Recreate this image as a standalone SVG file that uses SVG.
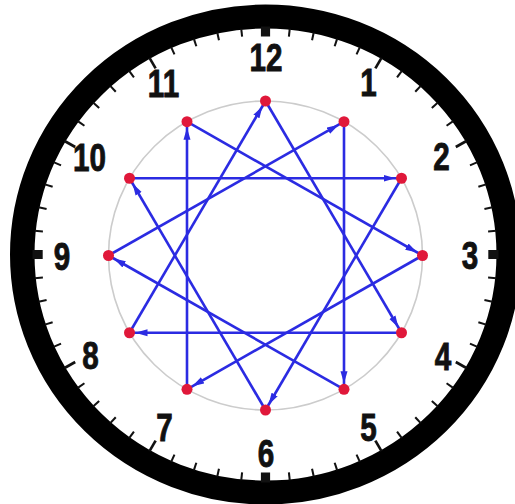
<svg xmlns="http://www.w3.org/2000/svg" xmlns:xlink="http://www.w3.org/1999/xlink" width="515" height="504" viewBox="0 0 515 504">
<style>
.num{font-family:"Liberation Sans",Arial,sans-serif;font-weight:bold;font-size:38px;fill:#111;stroke:#111;stroke-width:0.9;text-anchor:middle}
.conn line{stroke:#2b2be2;stroke-width:2.6;marker-end:url(#ah)}
.dot{fill:#e0183a}
.mt{stroke:#111;stroke-width:2}
.ht{stroke:#111;stroke-width:2.6}
</style>
<defs>
<marker id="ah" markerUnits="userSpaceOnUse" viewBox="0 0 12 8" markerWidth="12" markerHeight="8" refX="18" refY="4" orient="auto">
<path d="M0,0.5 L12,4 L0,7.5 z" fill="#2b2be2"/>
</marker>
<line id="mt" class="mt" x1="0" y1="-227" x2="0" y2="-219"/>
<line id="ht" class="ht" x1="0" y1="-227" x2="0" y2="-215"/>
<rect id="qt" x="-4.5" y="-228" width="9" height="10" fill="#111"/>
</defs>
<rect width="515" height="504" fill="#fff"/>
<g id="clock-face" transform="translate(265.5 254.5) scale(1.022 1)">
<circle r="238" fill="none" stroke="#000" stroke-width="24"/>
<g id="ticks">
<use xlink:href="#qt"/><use xlink:href="#qt" transform="rotate(90)"/><use xlink:href="#qt" transform="rotate(180)"/><use xlink:href="#qt" transform="rotate(270)"/>
<use xlink:href="#ht" transform="rotate(30)"/><use xlink:href="#ht" transform="rotate(60)"/><use xlink:href="#ht" transform="rotate(120)"/><use xlink:href="#ht" transform="rotate(150)"/><use xlink:href="#ht" transform="rotate(210)"/><use xlink:href="#ht" transform="rotate(240)"/><use xlink:href="#ht" transform="rotate(300)"/><use xlink:href="#ht" transform="rotate(330)"/>
<use xlink:href="#mt" transform="rotate(6)"/><use xlink:href="#mt" transform="rotate(12)"/><use xlink:href="#mt" transform="rotate(18)"/><use xlink:href="#mt" transform="rotate(24)"/>
<use xlink:href="#mt" transform="rotate(36)"/><use xlink:href="#mt" transform="rotate(42)"/><use xlink:href="#mt" transform="rotate(48)"/><use xlink:href="#mt" transform="rotate(54)"/>
<use xlink:href="#mt" transform="rotate(66)"/><use xlink:href="#mt" transform="rotate(72)"/><use xlink:href="#mt" transform="rotate(78)"/><use xlink:href="#mt" transform="rotate(84)"/>
<use xlink:href="#mt" transform="rotate(96)"/><use xlink:href="#mt" transform="rotate(102)"/><use xlink:href="#mt" transform="rotate(108)"/><use xlink:href="#mt" transform="rotate(114)"/>
<use xlink:href="#mt" transform="rotate(126)"/><use xlink:href="#mt" transform="rotate(132)"/><use xlink:href="#mt" transform="rotate(138)"/><use xlink:href="#mt" transform="rotate(144)"/>
<use xlink:href="#mt" transform="rotate(156)"/><use xlink:href="#mt" transform="rotate(162)"/><use xlink:href="#mt" transform="rotate(168)"/><use xlink:href="#mt" transform="rotate(174)"/>
<use xlink:href="#mt" transform="rotate(186)"/><use xlink:href="#mt" transform="rotate(192)"/><use xlink:href="#mt" transform="rotate(198)"/><use xlink:href="#mt" transform="rotate(204)"/>
<use xlink:href="#mt" transform="rotate(216)"/><use xlink:href="#mt" transform="rotate(222)"/><use xlink:href="#mt" transform="rotate(228)"/><use xlink:href="#mt" transform="rotate(234)"/>
<use xlink:href="#mt" transform="rotate(246)"/><use xlink:href="#mt" transform="rotate(252)"/><use xlink:href="#mt" transform="rotate(258)"/><use xlink:href="#mt" transform="rotate(264)"/>
<use xlink:href="#mt" transform="rotate(276)"/><use xlink:href="#mt" transform="rotate(282)"/><use xlink:href="#mt" transform="rotate(288)"/><use xlink:href="#mt" transform="rotate(294)"/>
<use xlink:href="#mt" transform="rotate(306)"/><use xlink:href="#mt" transform="rotate(312)"/><use xlink:href="#mt" transform="rotate(318)"/><use xlink:href="#mt" transform="rotate(324)"/>
<use xlink:href="#mt" transform="rotate(336)"/><use xlink:href="#mt" transform="rotate(342)"/><use xlink:href="#mt" transform="rotate(348)"/><use xlink:href="#mt" transform="rotate(354)"/>
</g>
</g>
<g id="numbers">
<text class="num" transform="translate(266 70.5) scale(0.78 1)">12</text>
<text class="num" transform="translate(368.5 95.5) scale(0.78 1)">1</text>
<text class="num" transform="translate(441.5 170) scale(0.78 1)">2</text>
<text class="num" transform="translate(470 269) scale(0.78 1)">3</text>
<text class="num" transform="translate(443 369.5) scale(0.78 1)">4</text>
<text class="num" transform="translate(368.5 441) scale(0.78 1)">5</text>
<text class="num" transform="translate(266 467) scale(0.78 1)">6</text>
<text class="num" transform="translate(164.5 441) scale(0.78 1)">7</text>
<text class="num" transform="translate(90.5 368.5) scale(0.78 1)">8</text>
<text class="num" transform="translate(62 269.5) scale(0.78 1)">9</text>
<text class="num" transform="translate(89.5 170.5) scale(0.78 1)">10</text>
<text class="num" transform="translate(163.5 97) scale(0.78 1)">11</text>
</g>
<ellipse id="guide-circle" cx="265.5" cy="255.5" rx="157" ry="154.5" fill="none" stroke="#cccccc" stroke-width="1.6"/>
<g id="connectors" class="conn">
<line x1="265.5" y1="101" x2="401.5" y2="332.75"/>
<line x1="401.5" y1="332.75" x2="129.5" y2="332.75"/>
<line x1="129.5" y1="332.75" x2="265.5" y2="101"/>
<line x1="344" y1="121.7" x2="344" y2="389.3"/>
<line x1="344" y1="389.3" x2="108.5" y2="255.5"/>
<line x1="108.5" y1="255.5" x2="344" y2="121.7"/>
<line x1="401.5" y1="178.25" x2="265.5" y2="410"/>
<line x1="265.5" y1="410" x2="129.5" y2="178.25"/>
<line x1="129.5" y1="178.25" x2="401.5" y2="178.25"/>
<line x1="422.5" y1="255.5" x2="187" y2="389.3"/>
<line x1="187" y1="389.3" x2="187" y2="121.7"/>
<line x1="187" y1="121.7" x2="422.5" y2="255.5"/>
</g>
<g id="p12"><circle class="dot" cx="265.5" cy="101" r="5.5"/></g>
<g id="p1"><circle class="dot" cx="344" cy="121.7" r="5.5"/></g>
<g id="p2"><circle class="dot" cx="401.5" cy="178.25" r="5.5"/></g>
<g id="p3"><circle class="dot" cx="422.5" cy="255.5" r="5.5"/></g>
<g id="p4"><circle class="dot" cx="401.5" cy="332.75" r="5.5"/></g>
<g id="p5"><circle class="dot" cx="344" cy="389.3" r="5.5"/></g>
<g id="p6"><circle class="dot" cx="265.5" cy="410" r="5.5"/></g>
<g id="p7"><circle class="dot" cx="187" cy="389.3" r="5.5"/></g>
<g id="p8"><circle class="dot" cx="129.5" cy="332.75" r="5.5"/></g>
<g id="p9"><circle class="dot" cx="108.5" cy="255.5" r="5.5"/></g>
<g id="p10"><circle class="dot" cx="129.5" cy="178.25" r="5.5"/></g>
<g id="p11"><circle class="dot" cx="187" cy="121.7" r="5.5"/></g>
</svg>
